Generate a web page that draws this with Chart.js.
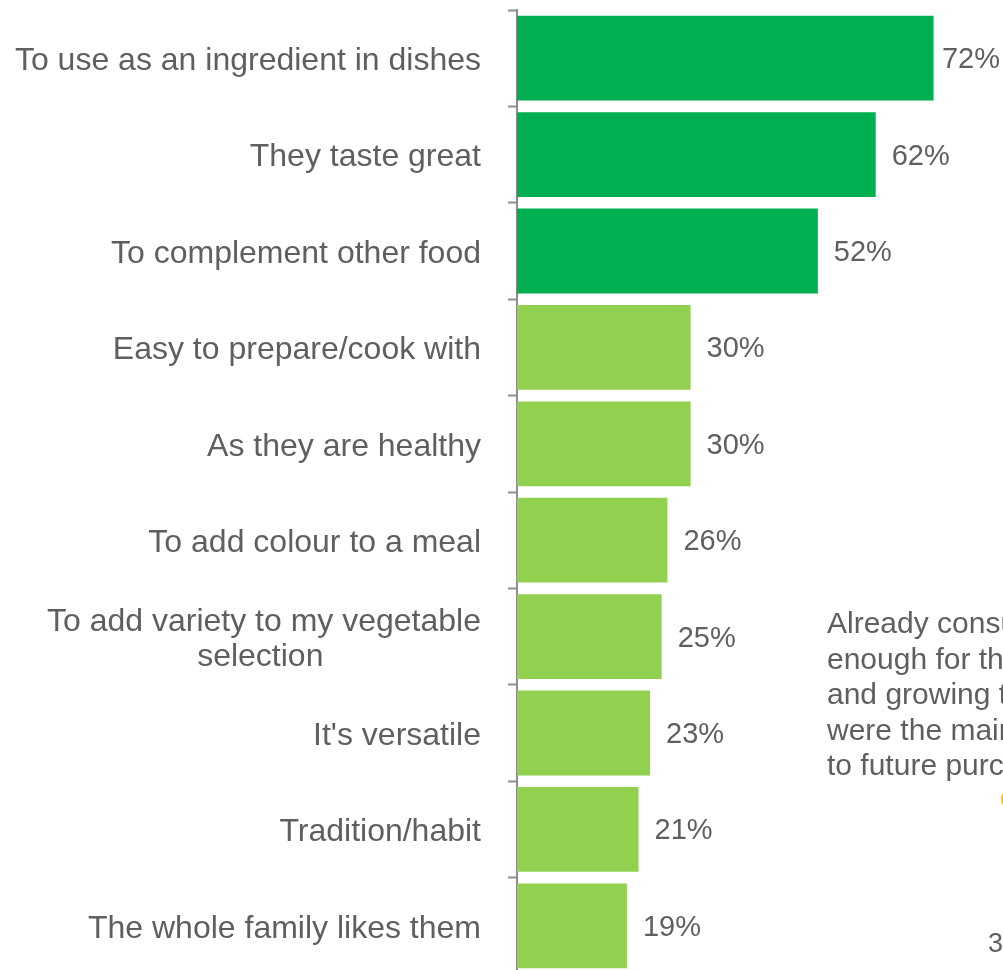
<!DOCTYPE html>
<html>
<head>
<meta charset="utf-8">
<script src="https://cdn.jsdelivr.net/npm/chart.js@4.4.1/dist/chart.umd.min.js"></script>
<style>
  html, body { margin: 0; padding: 0; background: #ffffff; }
  #wrap { width: 1003px; height: 970px; position: relative; overflow: hidden; }
</style>
</head>
<body>
<div id="wrap"><canvas id="chart" width="1003" height="974"></canvas></div>
<script>
// Reasons for buying
const categories = [
  'To use as an ingredient in dishes',
  'They taste great',
  'To complement other food',
  'Easy to prepare/cook with',
  'As they are healthy',
  'To add colour to a meal',
  // trailing spaces keep the second line centred under the first
  ['To add variety to my vegetable', 'selection                 \u2009'],
  "It's versatile",
  'Tradition/habit',
  'The whole family likes them'
];
const shares = [72, 62, 52, 30, 30, 26, 25, 23, 21, 19];
const topGroup = [true, true, true, false, false, false, false, false, false, false];

const sideNote = [
  'Already consume',
  'enough for their needs',
  'and growing their own',
  'were the main barriers',
  'to future purchase'
];
const sideFigure = '3';

const DARK_GREEN = '#00B050';
const LIGHT_GREEN = '#92D050';
const TEXT = '#5f5f5f';
const FONT = '"Liberation Sans", Arial, sans-serif';

// Percent labels next to each bar, pulled in when they would run off the edge
const valueLabels = {
  id: 'valueLabels',
  afterDatasetsDraw(chart) {
    const ctx = chart.ctx;
    const meta = chart.getDatasetMeta(0);
    ctx.save();
    ctx.font = '29px ' + FONT;
    ctx.fillStyle = TEXT;
    ctx.textAlign = 'left';
    ctx.textBaseline = 'middle';
    meta.data.forEach((bar, i) => {
      const text = shares[i] + '%';
      const w = ctx.measureText(text).width;
      const x = Math.min(bar.x + 16, chart.width - w - 3);
      ctx.fillText(text, x, bar.y + 2);
    });
    ctx.restore();
  }
};

// Callout text at the right edge of the slide
const sidePanel = {
  id: 'sidePanel',
  afterDraw(chart) {
    const ctx = chart.ctx;
    ctx.save();
    ctx.font = '30px ' + FONT;
    ctx.fillStyle = TEXT;
    ctx.textAlign = 'left';
    ctx.textBaseline = 'alphabetic';
    sideNote.forEach((line, i) => {
      ctx.fillText(line, 827, 633 + i * 35.5);
    });
    ctx.fillStyle = '#FFC000';
    ctx.beginPath();
    ctx.arc(1012, 799, 11, 0, Math.PI * 2);
    ctx.fill();
    ctx.fillStyle = TEXT;
    ctx.font = '27px ' + FONT;
    ctx.fillText(sideFigure, 988, 952);
    ctx.restore();
  }
};

new Chart(document.getElementById('chart'), {
  type: 'bar',
  data: {
    labels: categories,
    datasets: [{
      data: shares,
      backgroundColor: topGroup.map(t => t ? DARK_GREEN : LIGHT_GREEN),
      borderWidth: 0,
      barPercentage: 0.88,
      categoryPercentage: 1.0
    }]
  },
  options: {
    indexAxis: 'y',
    responsive: false,
    animation: false,
    devicePixelRatio: 1,
    layout: { padding: { top: 10, right: 0, bottom: 0, left: 0 } },
    plugins: {
      legend: { display: false },
      tooltip: { enabled: false }
    },
    scales: {
      x: {
        display: false,
        min: 0,
        max: 84
      },
      y: {
        afterFit(scale) {
          scale.width = 517;
          scale.paddingTop = 0;
          scale.paddingBottom = 0;
        },
        border: { display: true, color: '#8c8c8c', width: 2 },
        grid: {
          drawOnChartArea: false,
          drawTicks: true,
          tickLength: 9,
          tickWidth: 2,
          color: '#8c8c8c',
          offset: true
        },
        ticks: {
          color: TEXT,
          padding: 27,
          labelOffset: 3,
          font: { family: FONT, size: 32, lineHeight: 1.12 },
          autoSkip: false
        }
      }
    }
  },
  plugins: [valueLabels, sidePanel]
});
</script>
</body>
</html>
